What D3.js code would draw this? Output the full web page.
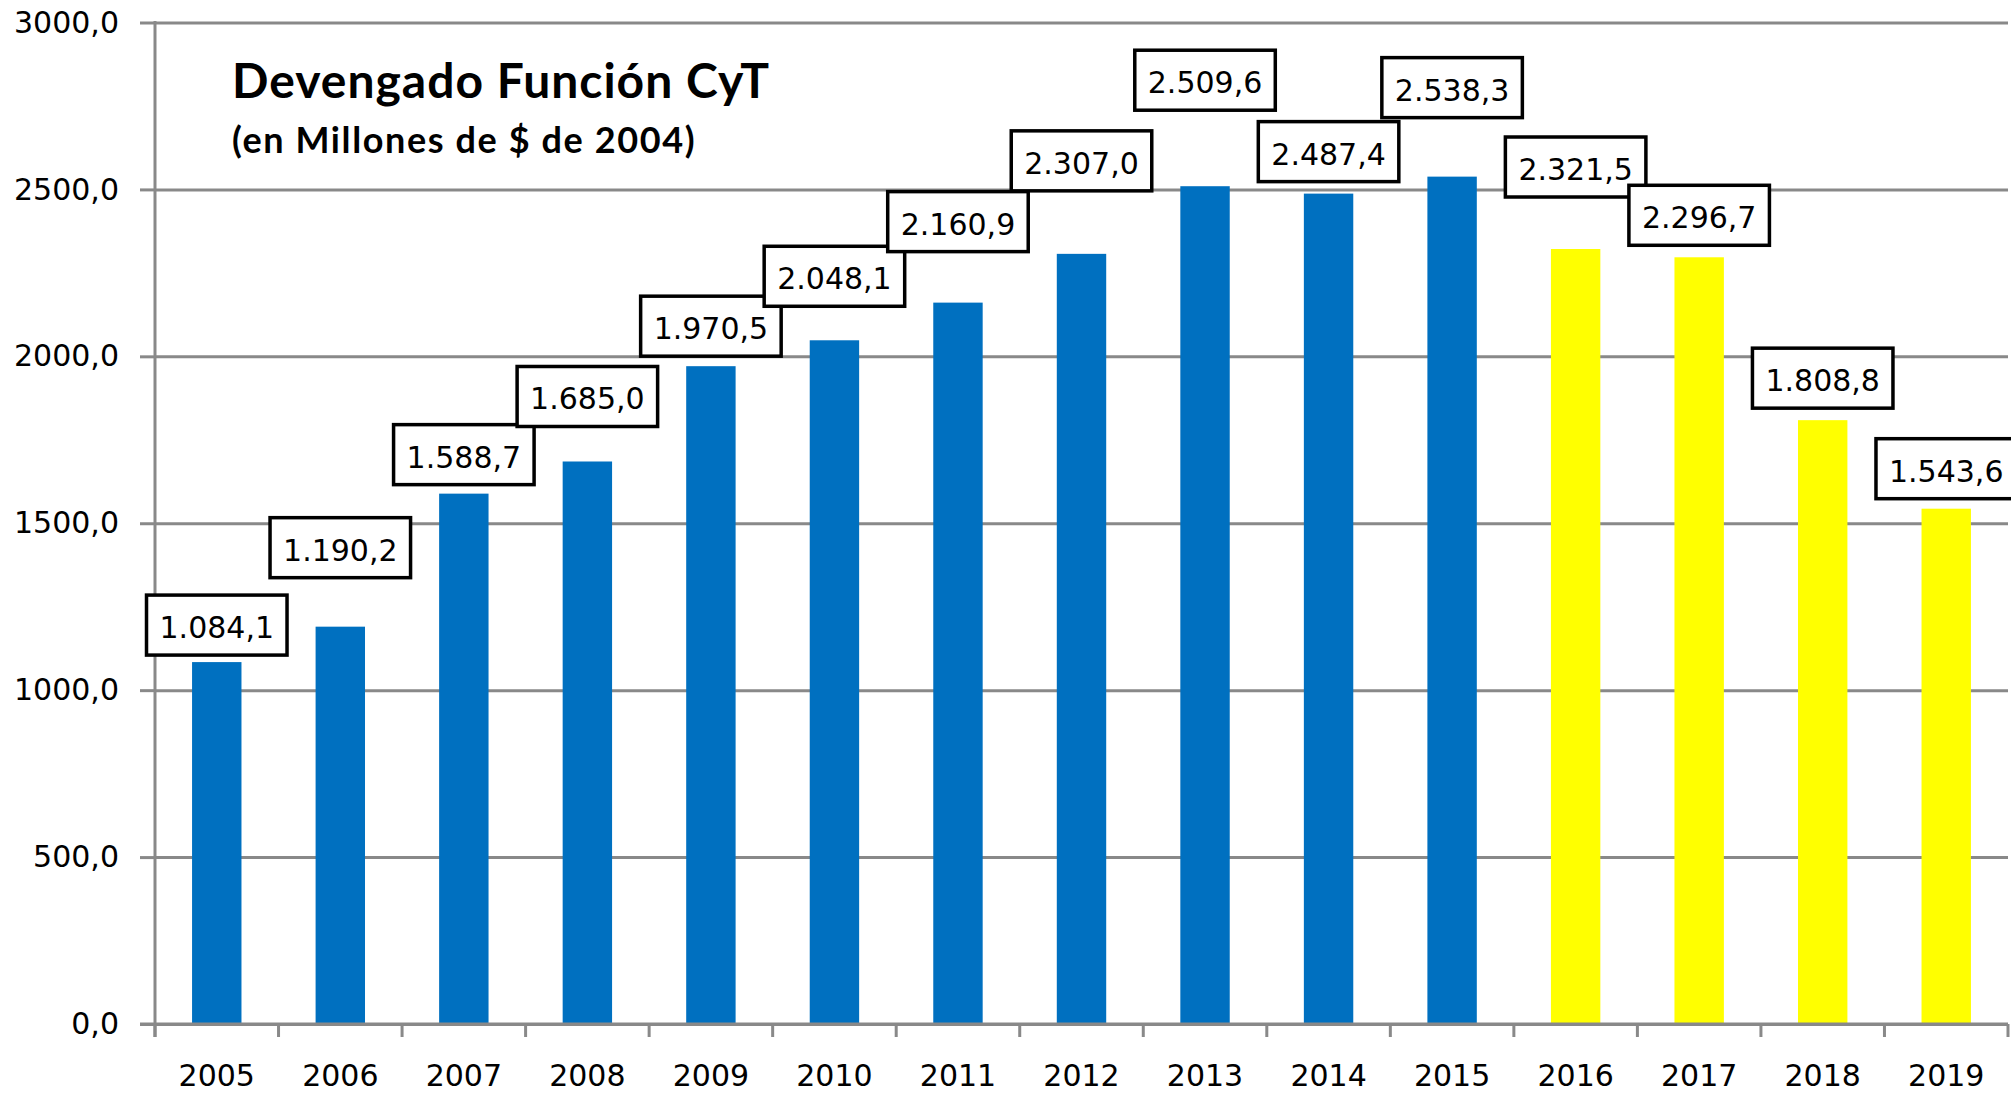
<!DOCTYPE html>
<html>
<head>
<meta charset="utf-8">
<script src="https://cdn.jsdelivr.net/npm/d3@7"></script>
<style>
  body { margin: 0; background: #fff; }
</style>
</head>
<body>
<div id="main"></div>
<script>
var years = ['2005', '2006', '2007', '2008', '2009', '2010', '2011', '2012',
  '2013', '2014', '2015', '2016', '2017', '2018', '2019'];
var devengado = [1084.1, 1190.2, 1588.7, 1685.0, 1970.5, 2048.1, 2160.9, 2307.0,
  2509.6, 2487.4, 2538.3, 2321.5, 2296.7, 1808.8, 1543.6];
var lastBlueYear = '2015';
var yTicks = [0, 500, 1000, 1500, 2000, 2500, 3000];
var title = 'Devengado Función CyT';
var subtitle = '(en Millones de $ de 2004)';

var data = years.map(function(y, i) {
  return { year: y, value: devengado[i] };
});

// how far each label box sits above its bar (px)
var labelGap = [7, 49, 9, 35, 10, 34, 51, 63, 76, 12, 59, 52, 12, 12, 10];

var width = 2011, height = 1095;
var plotLeft = 155, plotRight = 2008, plotTop = 22.5, plotBottom = 1024;

var es = d3.formatLocale({ decimal: ',', thousands: '.', grouping: [3], currency: ['$', ''] });
var fmtAxis = es.format('.1f');
var fmtLabel = es.format(',.1f');

var svg = d3.select('#main')
  .append('svg')
  .attr('width', width)
  .attr('height', height)
  .style('font-family', '"DejaVu Sans", Verdana, sans-serif');

var x = d3.scaleBand()
  .domain(years)
  .range([plotLeft, plotRight])
  .paddingInner(0.6)
  .paddingOuter(0.3);

var y = d3.scaleLinear()
  .domain([0, 3000])
  .range([plotBottom, plotTop]);

var gridColor = '#898989';

// gridlines
var grid = svg.append('g')
  .attr('transform', 'translate(' + plotLeft + ',0)')
  .call(d3.axisLeft(y).tickValues(yTicks).tickSize(-(plotRight - plotLeft)).tickFormat(''));
grid.select('.domain').remove();
grid.selectAll('line').attr('stroke', gridColor).attr('stroke-width', 3);

// y axis with labels
var yAxis = svg.append('g')
  .attr('transform', 'translate(' + plotLeft + ',0)')
  .call(d3.axisLeft(y).tickValues(yTicks).tickSize(15).tickPadding(21).tickFormat(fmtAxis));
yAxis.select('.domain').remove();
yAxis.selectAll('line').attr('stroke', gridColor).attr('stroke-width', 3);
yAxis.selectAll('text')
  .attr('fill', '#000')
  .style('font-size', '30px')
  .style('font-family', '"DejaVu Sans", Verdana, sans-serif');

// vertical axis line
svg.append('line')
  .attr('x1', plotLeft).attr('x2', plotLeft)
  .attr('y1', y(3000) - 1.5).attr('y2', plotBottom + 13)
  .attr('stroke', gridColor).attr('stroke-width', 3);

// bars
svg.selectAll('rect.bar')
  .data(data)
  .enter()
  .append('rect')
  .attr('class', 'bar')
  .attr('x', function(d) { return x(d.year); })
  .attr('width', x.bandwidth())
  .attr('y', function(d) { return y(d.value); })
  .attr('height', function(d) { return y(0) - y(d.value); })
  .attr('fill', function(d) { return d.year > lastBlueYear ? '#FFFF00' : '#0070C0'; });

// x axis: baseline, tick marks at band edges, labels
svg.append('line')
  .attr('x1', plotLeft - 15).attr('x2', plotRight)
  .attr('y1', y(0)).attr('y2', y(0))
  .attr('stroke', gridColor).attr('stroke-width', 3);

var edges = years.map(function(d) { return x(d) - (x.step() - x.bandwidth()) / 2; });
edges.push(plotRight);
svg.selectAll('line.xtick')
  .data(edges)
  .enter()
  .append('line')
  .attr('class', 'xtick')
  .attr('x1', function(d) { return d; })
  .attr('x2', function(d) { return d; })
  .attr('y1', y(0))
  .attr('y2', y(0) + 13)
  .attr('stroke', gridColor).attr('stroke-width', 3);

var xAxis = svg.append('g')
  .attr('transform', 'translate(0,' + y(0) + ')')
  .call(d3.axisBottom(x).tickSize(0).tickPadding(41));
xAxis.select('.domain').remove();
xAxis.selectAll('text')
  .attr('fill', '#000')
  .style('font-size', '30px')
  .style('font-family', '"DejaVu Sans", Verdana, sans-serif');

// value labels in boxes
var labels = svg.selectAll('g.lbl')
  .data(data)
  .enter()
  .append('g')
  .attr('class', 'lbl')
  .attr('transform', function(d, i) {
    var cx = x(d.year) + x.bandwidth() / 2;
    var boxBottom = y(d.value) - labelGap[i];
    return 'translate(' + cx + ',' + (boxBottom - 60) + ')';
  });

labels.append('rect')
  .attr('fill', '#fff')
  .attr('stroke', '#000')
  .attr('stroke-width', 3.5);

labels.append('text')
  .attr('text-anchor', 'middle')
  .attr('y', 43)
  .style('font-size', '30px')
  .text(function(d) { return fmtLabel(d.value); });

labels.each(function() {
  var g = d3.select(this);
  var tw = g.select('text').node().getComputedTextLength();
  var bw = tw + 26;
  g.select('rect')
    .attr('x', -bw / 2)
    .attr('y', 0)
    .attr('width', bw)
    .attr('height', 60);
});

// title
svg.append('text')
  .attr('x', 232)
  .attr('y', 98)
  .style('font-family', 'Lato, "Open Sans", sans-serif')
  .style('font-weight', 'bold')
  .style('font-size', '48px')
  .style('letter-spacing', '1px')
  .text(title);

svg.append('text')
  .attr('x', 232)
  .attr('y', 153)
  .style('font-family', 'Lato, "Open Sans", sans-serif')
  .style('font-weight', 'bold')
  .style('font-size', '36px')
  .style('letter-spacing', '1.6px')
  .text(subtitle);
</script>
</body>
</html>
